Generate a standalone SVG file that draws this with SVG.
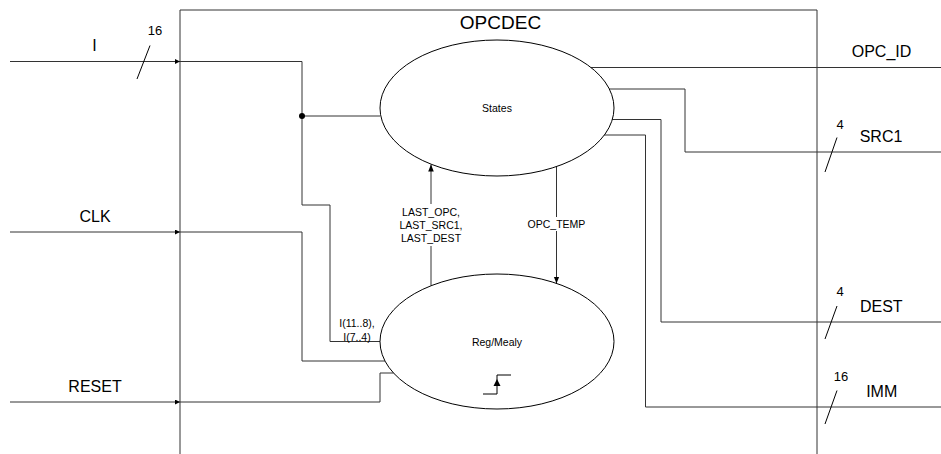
<svg xmlns="http://www.w3.org/2000/svg" width="941" height="454" viewBox="0 0 941 454">
<style>
text{font-family:"Liberation Sans",Arial,sans-serif;fill:#000}
.w{fill:none;stroke:#333;stroke-width:1}
.e{fill:#fff;stroke:#000;stroke-width:1}
.big{font-size:16px}
.sm{font-size:13px}
.lbl{font-size:10.5px}
.bus{stroke:#000;stroke-width:1}
</style>
<defs>
<marker id="ah" viewBox="0 0 10 10" refX="10" refY="5" markerWidth="5" markerHeight="5" orient="auto" markerUnits="userSpaceOnUse"><path d="M0,0 L10,5 L0,10 Z" fill="#000"/></marker>
<marker id="ah2" viewBox="0 0 10 10" refX="10" refY="5" markerWidth="7" markerHeight="7" orient="auto" markerUnits="userSpaceOnUse"><path d="M0,1 L10,5 L0,9 Z" fill="#000"/></marker>
</defs>
<g id="opcdec">
<path d="M180,454 V10 H817 V454" fill="none" stroke="#333" stroke-width="1"/>
<text x="500.5" y="29" font-size="19" text-anchor="middle">OPCDEC</text>
</g>
<g id="connectors">
<path class="w" d="M10,61.5 H180" marker-end="url(#ah)"/>
<path class="w" d="M180,61.5 H302 V205 H330 V341.5 H381"/>
<path class="w" d="M302,116 H380"/>
<circle cx="302" cy="116" r="3" fill="#000"/>
<path class="w" d="M10,232 H180" marker-end="url(#ah)"/>
<path class="w" d="M180,232 H302 V361 H385"/>
<path class="w" d="M10,402 H180" marker-end="url(#ah)"/>
<path class="w" d="M180,402 H380 V373 H394"/>
<path class="w" d="M431,285.5 V164.5" marker-end="url(#ah2)"/>
<path class="w" d="M556.5,166.5 V283.5" marker-end="url(#ah2)"/>
<path class="w" d="M591,67.5 H941"/>
<path class="w" d="M609,89 H685 V152 H941"/>
<path class="w" d="M612,119.5 H661 V322 H941"/>
<path class="w" d="M604,135 H645.5 V407 H941"/>
<line class="bus" x1="150" y1="45.5" x2="137" y2="79"/>
<line class="bus" x1="837" y1="137.5" x2="825" y2="172"/>
<line class="bus" x1="837" y1="306" x2="825" y2="339"/>
<line class="bus" x1="837" y1="390.5" x2="825" y2="424"/>
<text class="big" x="94.5" y="50.5" text-anchor="middle">I</text>
<text class="sm" x="155" y="35" text-anchor="middle">16</text>
<text class="big" x="95" y="221.7" text-anchor="middle">CLK</text>
<text class="big" x="95" y="391.7" text-anchor="middle">RESET</text>
<text class="big" x="881.5" y="57.3" text-anchor="middle">OPC_ID</text>
<text class="big" x="881" y="142.3" text-anchor="middle">SRC1</text>
<text class="sm" x="840" y="129" text-anchor="middle">4</text>
<text class="big" x="881.3" y="312.3" text-anchor="middle">DEST</text>
<text class="sm" x="840" y="295.7" text-anchor="middle">4</text>
<text class="big" x="881.7" y="397.3" text-anchor="middle">IMM</text>
<text class="sm" x="841" y="381" text-anchor="middle">16</text>
<rect x="392" y="204" width="78" height="42" fill="#fff"/>
<text class="lbl" x="431" y="215.5" text-anchor="middle">LAST_OPC,</text>
<text class="lbl" x="431" y="228.8" text-anchor="middle">LAST_SRC1,</text>
<text class="lbl" x="431" y="242.1" text-anchor="middle">LAST_DEST</text>
<rect x="525" y="217" width="64" height="14" fill="#fff"/>
<text class="lbl" x="556.5" y="227.8" text-anchor="middle">OPC_TEMP</text>
<text class="lbl" x="357" y="327" text-anchor="middle">I(11..8),</text>
<text class="lbl" x="357" y="340.5" text-anchor="middle">I(7..4)</text>
</g>
<g id="states">
<ellipse class="e" cx="497" cy="108" rx="117" ry="68"/>
<text x="497" y="112" font-size="10.5" text-anchor="middle">States</text>
</g>
<g id="regmealy">
<ellipse class="e" cx="497" cy="341.5" rx="117" ry="67.5"/>
<text x="497" y="345.5" font-size="10.5" text-anchor="middle">Reg/Mealy</text>
<path d="M483,394 H497 V375 H511" fill="none" stroke="#000" stroke-width="1"/>
<path d="M493.5,386 L497,379 L500.5,386 Z" fill="#000"/>
</g>
</svg>
